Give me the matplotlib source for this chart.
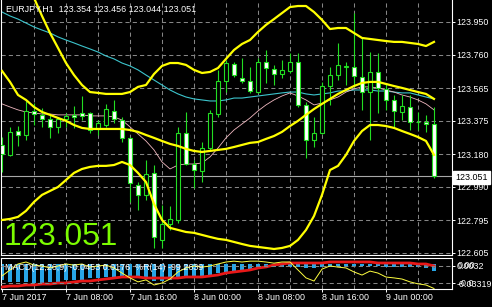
import matplotlib
matplotlib.use("Agg")
import matplotlib.pyplot as plt

plt.rcParams['font.family'] = ['Liberation Sans', 'DejaVu Sans']

SYMBOL_TITLE = "EURJPY,H1  123.354 123.456 123.044 123.051"
LAST_PRICE = 123.051

# hourly candles, 7 Jun 00:00 -> 9 Jun 06:00
opens = [123.234, 123.176, 123.315, 123.292, 123.432, 123.409, 123.385, 123.339, 123.385, 123.409,
         123.420, 123.420, 123.327, 123.350, 123.432, 123.379, 123.275, 123.001, 122.943, 123.071,
         122.681, 122.774, 122.797, 123.304, 123.123, 123.082, 123.216, 123.414, 123.606, 123.705,
         123.624, 123.606, 123.542, 123.717, 123.676, 123.647, 123.665, 123.717, 123.467, 123.263,
         123.304, 123.577, 123.641, 123.688, 123.688, 123.630, 123.542, 123.659, 123.560, 123.496,
         123.426, 123.455, 123.368, 123.368, 123.354]
highs = [123.280, 123.339, 123.344, 123.490, 123.478, 123.449, 123.409, 123.397, 123.420, 123.461,
         123.519, 123.426, 123.379, 123.473, 123.496, 123.397, 123.280, 123.018, 123.147, 123.117,
         122.884, 122.879, 123.339, 123.426, 123.147, 123.251, 123.438, 123.671, 123.729, 123.717,
         123.740, 123.688, 123.740, 123.787, 123.700, 123.729, 123.770, 123.770, 123.484, 123.397,
         123.601, 123.688, 123.828, 123.717, 124.002, 123.857, 123.775, 123.770, 123.595, 123.525,
         123.525, 123.525, 123.426, 123.409, 123.456]
lows = [123.077, 123.170, 123.228, 123.263, 123.350, 123.339, 123.275, 123.304, 123.339, 123.333,
        123.379, 123.304, 123.292, 123.339, 123.362, 123.251, 122.902, 122.855, 122.914, 122.634,
        122.634, 122.739, 122.780, 123.117, 122.983, 123.018, 123.205, 123.397, 123.542, 123.630,
        123.595, 123.537, 123.537, 123.595, 123.583, 123.624, 123.653, 123.455, 123.158, 123.222,
        123.298, 123.467, 123.612, 123.583, 123.572, 123.438, 123.263, 123.420, 123.438, 123.339,
        123.379, 123.321, 123.321, 123.310, 123.044]
closes = [123.181, 123.310, 123.292, 123.432, 123.414, 123.385, 123.339, 123.385, 123.403, 123.397,
          123.403, 123.321, 123.362, 123.443, 123.385, 123.275, 123.013, 122.943, 123.065, 122.698,
          122.774, 122.803, 123.304, 123.123, 123.088, 123.216, 123.420, 123.606, 123.711, 123.641,
          123.606, 123.548, 123.717, 123.682, 123.647, 123.671, 123.717, 123.467, 123.263, 123.304,
          123.577, 123.641, 123.700, 123.694, 123.636, 123.542, 123.659, 123.566, 123.496, 123.432,
          123.461, 123.368, 123.366, 123.354, 123.051]

bb_upper = [124.513, 124.410, 124.299, 124.195, 124.090, 123.985, 123.886, 123.799, 123.711, 123.641,
            123.583, 123.542, 123.537, 123.531, 123.531, 123.531, 123.542, 123.572, 123.583, 123.647,
            123.694, 123.711, 123.711, 123.700, 123.671, 123.653, 123.659, 123.682, 123.735, 123.787,
            123.822, 123.845, 123.892, 123.933, 123.967, 124.002, 124.037, 124.043, 124.043, 124.008,
            123.962, 123.909, 123.915, 123.915, 123.886, 123.857, 123.851, 123.845, 123.839, 123.834,
            123.834, 123.828, 123.822, 123.810, 123.834]
bb_middle = [123.665, 123.601, 123.525, 123.496, 123.455, 123.426, 123.409, 123.391, 123.374, 123.350,
             123.333, 123.327, 123.327, 123.327, 123.327, 123.327, 123.321, 123.310, 123.292, 123.275,
             123.257, 123.240, 123.228, 123.211, 123.199, 123.193, 123.199, 123.205, 123.211, 123.222,
             123.234, 123.246, 123.251, 123.269, 123.286, 123.310, 123.344, 123.374, 123.409, 123.443,
             123.473, 123.502, 123.531, 123.554, 123.577, 123.595, 123.601, 123.601, 123.589, 123.577,
             123.566, 123.554, 123.542, 123.531, 123.502]
bb_lower = [122.797, 122.803, 122.815, 122.850, 122.902, 122.943, 122.966, 122.989, 123.030, 123.071,
            123.094, 123.106, 123.112, 123.112, 123.117, 123.135, 123.117, 123.071, 123.018, 122.890,
            122.797, 122.751, 122.739, 122.727, 122.722, 122.710, 122.698, 122.687, 122.681, 122.669,
            122.657, 122.646, 122.640, 122.634, 122.628, 122.634, 122.646, 122.681, 122.739, 122.820,
            122.943, 123.088, 123.112, 123.176, 123.257, 123.315, 123.350, 123.350, 123.344, 123.333,
            123.315, 123.298, 123.280, 123.257, 123.176]
ma_slow = [124.008, 123.985, 123.967, 123.944, 123.921, 123.903, 123.886, 123.863, 123.845, 123.828,
           123.810, 123.793, 123.775, 123.752, 123.735, 123.711, 123.694, 123.671, 123.641, 123.612,
           123.583, 123.554, 123.531, 123.513, 123.502, 123.496, 123.490, 123.490, 123.496, 123.507,
           123.507, 123.513, 123.519, 123.525, 123.531, 123.537, 123.542, 123.542, 123.531, 123.525,
           123.531, 123.537, 123.548, 123.548, 123.554, 123.554, 123.554, 123.548, 123.548, 123.542,
           123.537, 123.537, 123.525, 123.513, 123.502]
ma_fast = [123.473, 123.455, 123.438, 123.426, 123.420, 123.414, 123.414, 123.409, 123.409, 123.409,
           123.409, 123.403, 123.403, 123.403, 123.397, 123.379, 123.339, 123.298, 123.257, 123.205,
           123.135, 123.094, 123.117, 123.123, 123.123, 123.129, 123.164, 123.216, 123.275, 123.321,
           123.356, 123.391, 123.432, 123.467, 123.496, 123.519, 123.537, 123.519, 123.496, 123.467,
           123.478, 123.496, 123.513, 123.542, 123.560, 123.572, 123.572, 123.566, 123.554, 123.542,
           123.525, 123.513, 123.496, 123.473, 123.438]

macd_hist = [-0.0278, -0.0313, -0.0313, -0.0313, -0.0331, -0.0331, -0.0313, -0.0313, -0.0278, -0.0278,
             -0.0278, -0.0244, -0.0244, -0.0226, -0.0226, -0.0226, -0.0226, -0.0244, -0.0261, -0.0296,
             -0.0296, -0.0278, -0.0244, -0.0244, -0.0226, -0.0209, -0.0191, -0.0157, -0.0139, -0.0122,
             -0.0104, -0.0087, -0.0070, -0.0070, -0.0052, -0.0052, -0.0052, -0.0052, -0.0070, -0.0070,
             -0.0052, -0.0052, -0.0035, -0.0035, -0.0035, -0.0035, -0.0035, -0.0035, -0.0052, -0.0052,
             -0.0052, -0.0052, -0.0052, -0.0070, -0.0122]
macd_signal = [-0.0400, -0.0383, -0.0383, -0.0365, -0.0365, -0.0348, -0.0348, -0.0331, -0.0331, -0.0313,
               -0.0296, -0.0296, -0.0278, -0.0261, -0.0244, -0.0226, -0.0226, -0.0226, -0.0244, -0.0244,
               -0.0244, -0.0244, -0.0244, -0.0226, -0.0226, -0.0226, -0.0209, -0.0191, -0.0157, -0.0139,
               -0.0122, -0.0104, -0.0070, -0.0052, -0.0017, 0.0000, 0.0017, 0.0017, 0.0017, 0.0017,
               0.0017, 0.0035, 0.0035, 0.0035, 0.0035, 0.0035, 0.0035, 0.0017, 0.0017, 0.0017,
               0.0017, 0.0017, 0.0000, 0.0000, -0.0035]
williams_r = [-55, -34, -13, -6, -17, -20, -27, -20, -13, -17,
              -13, -24, -20, -17, -27, -45, -62, -76, -69, -87,
              -80, -66, -41, -27, -20, -24, -20, -13, -6, -3,
              -6, -3, -3, -6, -10, -6, -6, -34, -62, -73,
              -31, -20, -24, -27, -41, -52, -38, -45, -59, -62,
              -66, -76, -83, -87, -99.26]

price_ticks = [123.950, 123.760, 123.565, 123.375, 123.180, 122.990, 122.795, 122.605]
wr_levels = [-20, -80]
wr_level_labels = ["0.0032", "-0.03319"]
time_ticks = [0, 8, 16, 24, 32, 40, 48]
time_labels = ["7 Jun 2017", "7 Jun 08:00", "7 Jun 16:00", "8 Jun 00:00",
               "8 Jun 08:00", "8 Jun 16:00", "9 Jun 00:00"]
grid_bars = list(range(4, 56, 4))
MACD_TEXT = "MACD(12,26,9) -0.0453 0.0176  %R(14) -99.2639"

W, H = 492, 307
GREEN = "#22dd22"
GRID = "#858585"
FS = 6.4


def box(x0, y0, x1, y1):
    return [x0 / W, 1 - y1 / H, (x1 - x0) / W, (y1 - y0) / H]


def style_axes(a):
    a.set_facecolor("black")
    for s in a.spines.values():
        s.set_color("white")
        s.set_linewidth(0.8)
    a.spines["top"].set_visible(False)


fig = plt.figure(figsize=(W / 100, H / 100), dpi=100, facecolor="black")
ax = fig.add_axes(box(1, 0, 452, 255))
sub = fig.add_axes(box(1, 258, 452, 289), sharex=ax)
style_axes(ax)
style_axes(sub)
sub.spines["top"].set_visible(True)

ax.set_xlim(-0.125, 56.25)
ax.set_ylim(122.593, 124.078)

for p in price_ticks:
    ax.axhline(p, color=GRID, lw=0.75, ls=(0, (4, 3)), zorder=0)
for b in grid_bars:
    ax.axvline(b, color=GRID, lw=0.75, ls=(0, (4, 3)), zorder=0)
    sub.axvline(b, color=GRID, lw=0.75, ls=(0, (4, 3)), zorder=0)

ax.axhline(LAST_PRICE, color="#a8a8a8", lw=0.8, zorder=1)

x = list(range(len(opens)))
ax.plot(x, ma_slow, color="#3cc4cc", lw=0.8, zorder=2)
ax.plot(x, ma_fast, color="#f0b8c0", lw=0.6, zorder=2)

ax.vlines(x, lows, highs, color=GREEN, lw=0.8, zorder=3)
bottoms = [min(o, c) for o, c in zip(opens, closes)]
heights = [max(abs(c - o), 0.003) for o, c in zip(opens, closes)]
faces = ["white" if c < o else "black" for o, c in zip(opens, closes)]
ax.bar(x, heights, bottom=bottoms, width=0.6, color=faces, edgecolor=GREEN, linewidth=0.8, zorder=4)

for band in (bb_upper, bb_middle, bb_lower):
    ax.plot(x, band, color="#ffff00", lw=1.6, zorder=5)

ax.set_xticks([])
ax.yaxis.tick_right()
ax.set_yticks(price_ticks)
ax.set_yticklabels([f"{p:.3f}" for p in price_ticks])
ax.tick_params(axis="y", colors="white", labelsize=FS, length=2.2, width=0.7, pad=1)

fig.text(6 / W, 1 - 12 / H, SYMBOL_TITLE, color="white", fontsize=FS, va="baseline")
fig.text(4 / W, 1 - 245 / H, f"{LAST_PRICE:.3f}", color="#7cfc00", fontsize=22.7, va="baseline")
fig.text(455 / W, 1 - 180 / H, f"{LAST_PRICE:.3f}", color="black", fontsize=FS, va="baseline",
         bbox=dict(boxstyle="square,pad=0.25", fc="white", ec="white"))

# indicator window: MACD + Williams %R share it, each on its own scale
sub.set_ylim(-0.0435, 0.0104)
sub.bar(x, macd_hist, width=0.6, color="#28a6e6", zorder=2)
sub.plot(x, macd_signal, color="#e81818", lw=2.0, zorder=3)
sub.set_yticks([])
sub.set_xticks(time_ticks)
sub.set_xticklabels(time_labels, ha="left")
sub.tick_params(axis="x", colors="white", labelsize=FS, length=2.2, width=0.7, pad=1)

wr = sub.twinx()
wr.set_ylim(-101.1, 8.1)
for s in wr.spines.values():
    s.set_visible(False)
for lv in wr_levels:
    wr.axhline(lv, color=GRID, lw=0.75, ls=(0, (4, 3)), zorder=0)
wr.plot(x, williams_r, color="#ffff40", lw=0.7, zorder=4)
wr.set_yticks(wr_levels)
wr.set_yticklabels(wr_level_labels)
wr.tick_params(axis="y", colors="white", labelsize=FS, length=2.2, width=0.7, pad=1)
yt = wr.get_yaxis_transform()
wr.text(1.0 + 6 / 451, -20, "0.00", color="white", fontsize=FS, va="center", ha="left",
        transform=yt, clip_on=False)
wr.text(1.0 + 7 / 451, -80, "-0.0", color="white", fontsize=FS, va="center", ha="left",
        transform=yt, clip_on=False)

fig.text(5 / W, 1 - 270 / H, MACD_TEXT, color="white", fontsize=FS, va="baseline")

fig.savefig("out.png", dpi=100, facecolor="black")
